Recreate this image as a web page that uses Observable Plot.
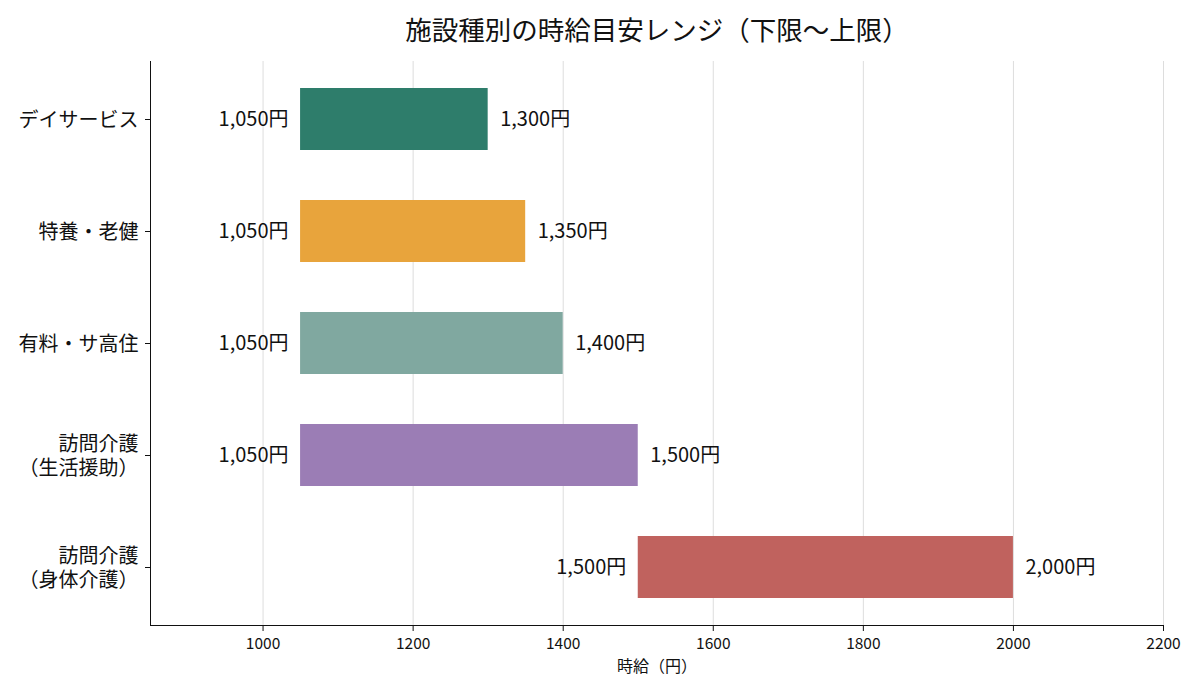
<!DOCTYPE html>
<html><head><meta charset="utf-8">
<script src="https://cdn.jsdelivr.net/npm/d3@7"></script>
<script src="https://cdn.jsdelivr.net/npm/@observablehq/plot@0.6"></script>
<style>
body{margin:0;background:#fff;font-family:"Noto Sans CJK JP","Noto Sans",sans-serif;}
#title{height:50px;line-height:57px;text-align:center;font-size:26.5px;color:#111;padding-left:114px;box-sizing:border-box;width:1200px;}
</style></head>
<body>
<div id="title">施設種別の時給目安レンジ（下限〜上限）</div>
<div id="chart"></div>
<script>
const categories = ["デイサービス","特養・老健","有料・サ高住","訪問介護\n（生活援助）","訪問介護\n（身体介護）"];
const lows = [1050,1050,1050,1050,1500];
const highs = [1300,1350,1400,1500,2000];
const colors = ["#2e7d6b","#e8a43c","#80a8a0","#9b7db5","#c0625e"];
const xTicks = [1000,1200,1400,1600,1800,2000,2200];

const data = categories.map((c,i)=>({cat:c, lo:lows[i], hi:highs[i], color:colors[i]}));
const fmt = v => d3.format(",")(v) + "円";

const chart = Plot.plot({
  width:1200, height:646,
  marginTop:11, marginBottom:71, marginLeft:150, marginRight:37,
  style:{fontFamily:'"Noto Sans CJK JP","Noto Sans",sans-serif', fontSize:"15px", color:"#111", background:"#fff"},
  x:{domain:[850,2200], ticks:xTicks, label:null},
  y:{domain:categories, paddingInner:0.45, paddingOuter:0.225, label:null},
  marks:[
    Plot.ruleX(xTicks, {stroke:"#ddd", strokeWidth:1}),
    Plot.barX(data, {x1:"lo", x2:"hi", y:"cat", fill:"color"}),
    Plot.text(data, {x:"lo", y:"cat", text:d=>fmt(d.lo), textAnchor:"end", dx:-12, fontSize:20, fill:"#111"}),
    Plot.text(data, {x:"hi", y:"cat", text:d=>fmt(d.hi), textAnchor:"start", dx:12, fontSize:20, fill:"#111"}),
    Plot.axisX({ticks:xTicks, tickSize:6, tickPadding:6, fontSize:15.5, tickFormat:d3.format("d"), label:null}),
    Plot.text(["時給（円）"], {frameAnchor:"bottom", dy:46, fontSize:16, fill:"#111"}),
    Plot.axisY({tickSize:5, tickPadding:7, fontSize:20, lineHeight:1.2, label:null}),
    Plot.frame({anchor:"left", stroke:"#111"}),
    Plot.frame({anchor:"bottom", stroke:"#111"})
  ]
});
document.getElementById("chart").appendChild(chart);
</script>
</body></html>
